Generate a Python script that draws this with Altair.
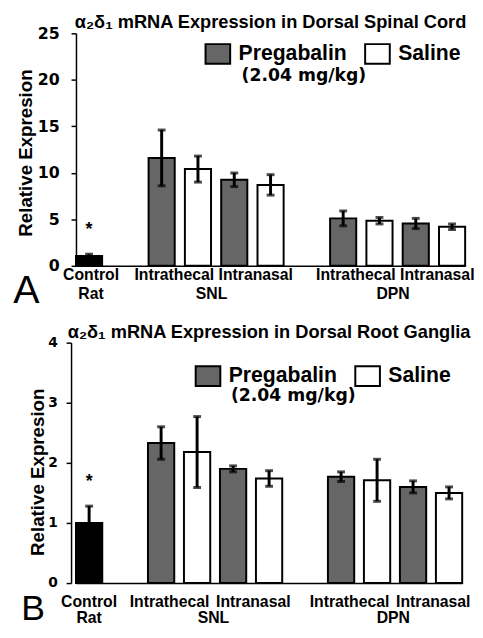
import altair as alt
import pandas as pd

# ---------------- data ----------------
slots = ["Control", "gap1",
         "SNL IT Preg", "SNL IT Sal", "SNL IN Preg", "SNL IN Sal",
         "gap2",
         "DPN IT Preg", "DPN IT Sal", "DPN IN Preg", "DPN IN Sal"]
bar_slots = ["Control",
             "SNL IT Preg", "SNL IT Sal", "SNL IN Preg", "SNL IN Sal",
             "DPN IT Preg", "DPN IT Sal", "DPN IN Preg", "DPN IN Sal"]
treatments = ["Control", "Pregabalin", "Saline", "Pregabalin", "Saline",
              "Pregabalin", "Saline", "Pregabalin", "Saline"]

cord_mean = [1.05, 11.6, 10.4, 9.25, 8.7, 5.1, 4.85, 4.55, 4.2]
cord_err = [0.2, 3.0, 1.4, 0.73, 1.1, 0.8, 0.35, 0.55, 0.3]
drg_mean = [1.0, 2.33, 2.18, 1.9, 1.74, 1.77, 1.71, 1.6, 1.5]
drg_err = [0.28, 0.27, 0.59, 0.05, 0.13, 0.08, 0.35, 0.1, 0.1]

cord_ticks = [0, 5, 10, 15, 20, 25]
drg_ticks = [0, 0.5, 1, 1.5, 2, 2.5, 3, 3.5, 4]

ctrl_slot = ["Control"]
it_slots = ["SNL IT Sal", "DPN IT Sal"]
in_slots = ["SNL IN Sal", "DPN IN Sal"]
group_slots = ["SNL IN Preg", "DPN IN Preg"]
group_names = ["SNL", "DPN"]

legend_values = ["Pregabalin", "Saline"]
color_domain = ["Pregabalin", "Saline", "Control"]
color_range = ["#666666", "#ffffff", "#000000"]

FONT = "Liberation Sans"
WIDE = "DejaVu Sans"


def panel(title, mean, err, ticks, ymax, fmt, p):
    df = pd.DataFrame({"slot": bar_slots, "treatment": treatments,
                       "mean": mean, "err": err})
    base = alt.Chart(df).transform_calculate(
        lo="datum.mean - datum.err", hi="datum.mean + datum.err")

    xenc = alt.X("slot:N", sort=slots,
                 scale=alt.Scale(domain=slots, paddingInner=p["pad"], paddingOuter=0),
                 axis=alt.Axis(labels=False, ticks=False, title=None,
                               domainColor="black", domainWidth=1.5))
    yscale = alt.Scale(domain=[0, ymax], nice=False)

    bars = base.mark_bar(stroke="black", strokeWidth=2).encode(
        x=xenc,
        y=alt.Y("mean:Q", scale=yscale,
                axis=alt.Axis(values=ticks, format=fmt, grid=False,
                              domainColor="black", domainWidth=1.5,
                              tickColor="black", tickWidth=1.5, tickSize=5,
                              labelFont=WIDE,
                              labelFontSize=p["tickfs"], labelFontWeight="bold",
                              labelColor="black", labelPadding=p["lpad"],
                              offset=p["yoff"],
                              title="Relative Expresion", titleFontSize=19,
                              titleFontWeight="bold", titleColor="black",
                              titlePadding=p["tpad"], titleY=p["titleY"])),
        color=alt.Color("treatment:N",
                        scale=alt.Scale(domain=color_domain, range=color_range),
                        legend=alt.Legend(values=legend_values, title=None,
                                          orient="none", direction="horizontal",
                                          legendX=p["legX"], legendY=p["legY"],
                                          padding=0,
                                          symbolType="M-1.25,-1H1.25V1H-1.25Z",
                                          symbolSize=400, symbolStrokeColor="black",
                                          symbolStrokeWidth=2, symbolOpacity=1,
                                          labelFontSize=21.5, labelFontWeight="bold",
                                          labelColor="black", labelOffset=10,
                                          columnPadding=14)),
    )
    rules = base.mark_rule(color="black", strokeWidth=3).encode(
        x=alt.X("slot:N", sort=slots), y="lo:Q", y2="hi:Q")
    cap_lo = base.mark_tick(color="black", thickness=3, size=8).encode(
        x=alt.X("slot:N", sort=slots), y="lo:Q")
    cap_hi = base.mark_tick(color="black", thickness=3, size=8).encode(
        x=alt.X("slot:N", sort=slots), y="hi:Q")
    star = base.transform_filter(alt.datum.treatment == "Control").mark_text(
        text="*", fontSize=18, fontWeight="bold", dy=-19, baseline="alphabetic",
        color="black").encode(x=alt.X("slot:N", sort=slots), y="hi:Q")

    def txt(slots_, texts, dx, dy, size=16, weight="bold", align="center"):
        d = pd.DataFrame({"slot": slots_, "label": texts})
        return alt.Chart(d).mark_text(fontSize=size, fontWeight=weight,
                                      baseline="alphabetic", align=align,
                                      dx=dx, dy=dy, color="black").encode(
            x=alt.X("slot:N", sort=slots), y=alt.datum(0), text="label:N")

    l_ctrl1 = txt(ctrl_slot, ["Control"], p["ctrl_dx"], p["dy1"])
    l_ctrl2 = txt(ctrl_slot, ["Rat"], p["ctrl_dx"], p["dy2"])
    l_it = txt(it_slots, ["Intrathecal"] * 2, p["it_dx"], p["dy1"])
    l_in = txt(in_slots, ["Intranasal"] * 2, p["in_dx"], p["dy1"])
    l_grp = txt(group_slots, group_names, p["grp_dx"], p["dy2"])
    letter = txt(ctrl_slot, [p["letter"]], p["let_dx"], p["let_dy"],
                 size=p["let_fs"], weight="normal", align="left")

    sub = alt.Chart(pd.DataFrame({"slot": ["gap2"], "label": ["(2.04 mg/kg)"]})).mark_text(
        font=WIDE, fontSize=17.5, fontWeight="bold", baseline="alphabetic", dx=p["sub_dx"],
        color="black").encode(x=alt.X("slot:N", sort=slots),
                              y=alt.datum(p["sub_y"]), text="label:N")

    return alt.layer(bars, rules, cap_lo, cap_hi, star,
                     l_ctrl1, l_ctrl2, l_it, l_in, l_grp, letter, sub).properties(
        width=p["w"], height=p["h"],
        title=alt.TitleParams(title, anchor="middle", frame="group",
                              fontSize=18.5, fontWeight="bold", color="black",
                              baseline="alphabetic", offset=p["toff"]),
    ).resolve_scale(color="independent")


pA = dict(pad=0.28, tickfs=16, lpad=12, yoff=0, tpad=2, titleY=121,
          legX=133, legY=10, w=395, h=236,
          ctrl_dx=2, dy1=14.5, dy2=34, it_dx=-24, in_dx=-15, grp_dx=-23,
          letter="A", let_fs=40, let_dx=-77, let_dy=38, sub_dx=-3, sub_y=19.9,
          toff=-21)
pB = dict(pad=0.27, tickfs=14, lpad=9, yoff=5, tpad=0, titleY=131,
          legX=123, legY=23, w=392, h=244,
          ctrl_dx=0, dy1=24, dy2=41, it_dx=-28, in_dx=-16, grp_dx=-20,
          letter="B", let_fs=36, let_dx=-69, let_dy=38, sub_dx=-12, sub_y=3.035,
          toff=-21)

chartA = panel("α₂δ₁ mRNA Expression in Dorsal Spinal Cord",
               cord_mean, cord_err, cord_ticks, 25, "d", pA)
chartB = panel("α₂δ₁ mRNA Expression in Dorsal Root Ganglia",
               drg_mean, drg_err, drg_ticks, 4, ".1~f", pB)

chart = alt.vconcat(chartA, chartB, spacing=12).resolve_scale(
    color="independent").resolve_legend(color="independent").properties(
    padding={"left": 5, "top": 0, "right": 0, "bottom": 0}
).configure(font=FONT).configure_view(stroke=None)

chart.save("out.html", embed_options={"renderer": "svg", "actions": False})
